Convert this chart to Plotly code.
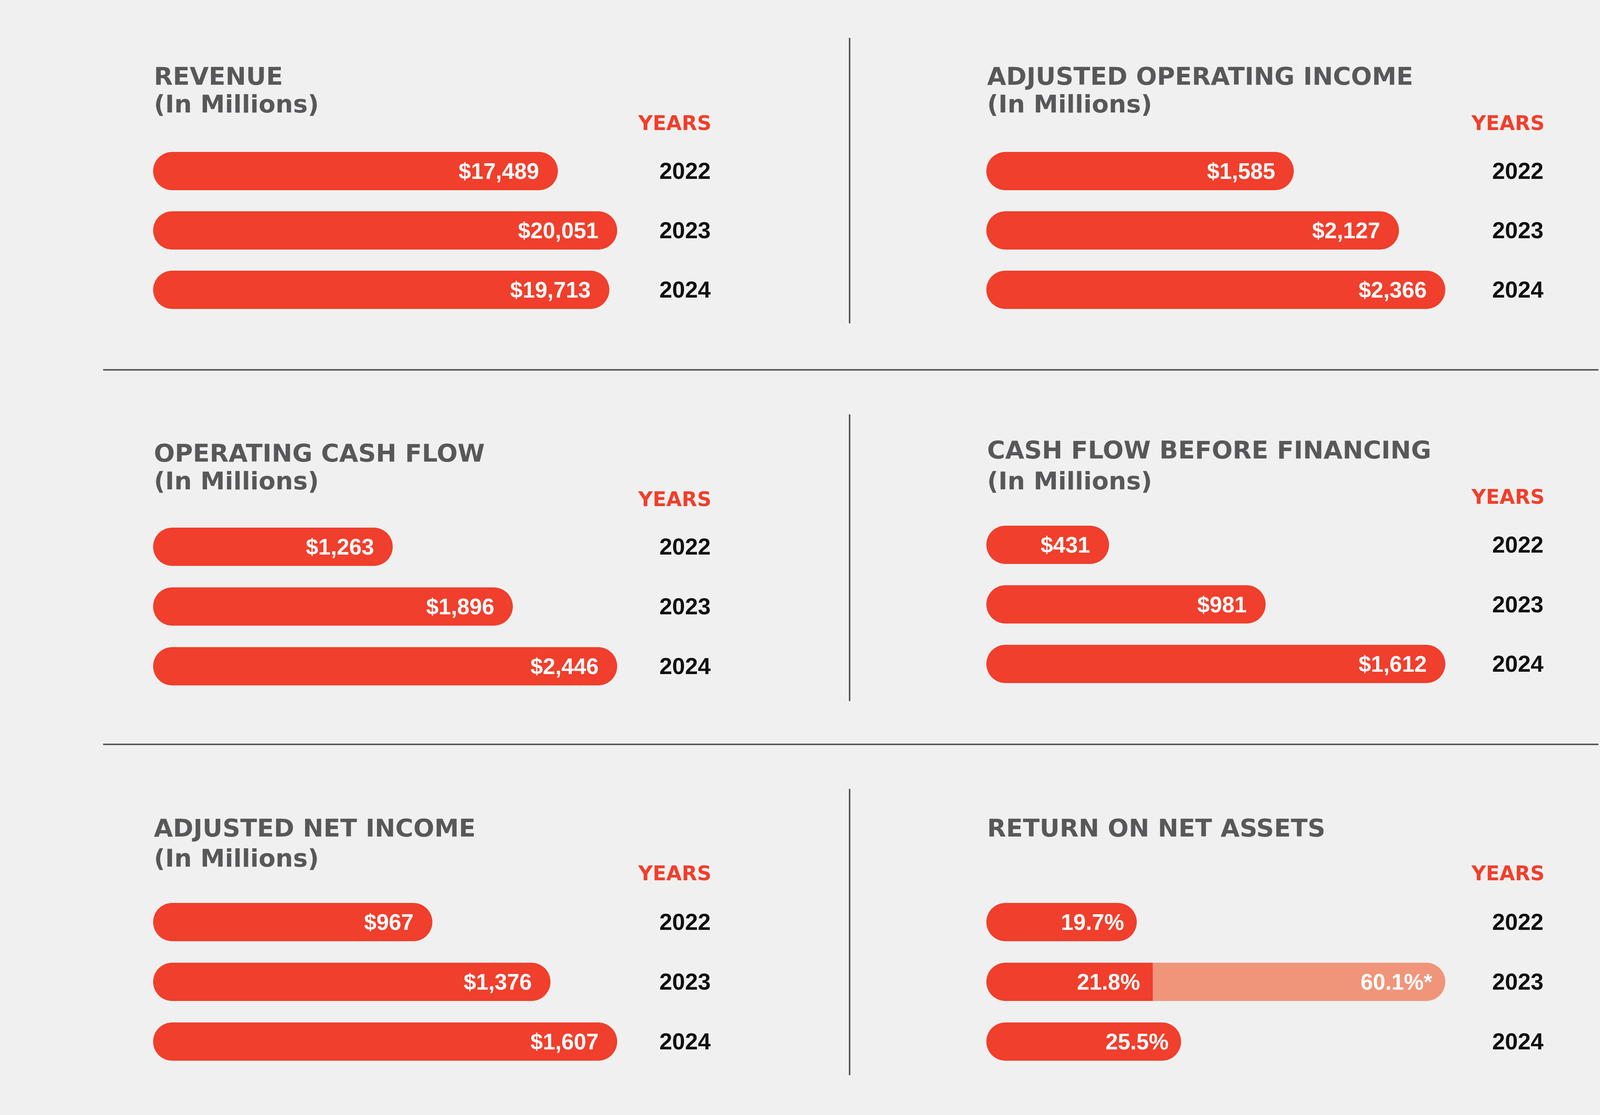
import plotly.graph_objects as go

W, H = 4356, 2855

# ---------------- data ----------------
years = ["2022", "2023", "2024"]
revenue = [17489, 20051, 19713]
adj_operating_income = [1585, 2127, 2366]
operating_cash_flow = [1263, 1896, 2446]
cash_flow_before_financing = [431, 981, 1612]
adj_net_income = [967, 1376, 1607]
return_on_net_assets = [19.7, 21.8, 25.5]
rona_2023_alt = 60.1  # the "60.1%*" figure

titles = ["REVENUE", "ADJUSTED OPERATING INCOME", "OPERATING CASH FLOW",
          "CASH FLOW BEFORE FINANCING", "ADJUSTED NET INCOME", "RETURN ON NET ASSETS"]
subtitle = "(In Millions)"
years_header = "YEARS"

# ---------------- style ----------------
BG = "#f0f0f0"
RED = "#f03f2c"
LIGHT = "#f09579"
GREY = "#58585a"
YEAR_C = "#111111"
LINE_C = "#58585a"

TITLE_FONT = dict(family="DejaVu Sans", size=63, color=GREY, weight="bold")
HDR_FONT = dict(family="DejaVu Sans", size=51, color=RED, weight="bold")
YEAR_FONT = dict(family="Liberation Sans", size=59, color=YEAR_C, weight="bold")
LABEL_FONT = dict(family="Liberation Sans", size=57, color="white", weight="bold")

col_x0 = [392, 2525]
col_x1 = [1580, 3700]
year_right = [1821, 3953]
hdr_right = [1823, 3956]
BAR_PX = 98

# per panel geometry (pixels): column, first/last bar centre, title y, subtitle y, header y
geo = [
    dict(col=0, c=(438, 742), t=196, s=266, h=315),
    dict(col=1, c=(438, 742), t=196, s=266, h=315),
    dict(col=0, c=(1400, 1706), t=1161, s=1231, h=1278),
    dict(col=1, c=(1395, 1700), t=1152, s=1231, h=1272),
    dict(col=0, c=(2361, 2667), t=2120, s=2197, h=2236),
    dict(col=1, c=(2361, 2667), t=2120, s=None, h=2236),
]

money_series = [revenue, adj_operating_income, operating_cash_flow,
                cash_flow_before_financing, adj_net_income]


def px(x):
    return x / W


def py(y):
    return 1 - y / H


fig = go.Figure()
layout = dict(
    width=W, height=H, paper_bgcolor=BG, plot_bgcolor="rgba(0,0,0,0)",
    margin=dict(l=0, r=0, t=0, b=0), showlegend=False, barmode="overlay",
    hovermode=False,
)
annotations = []
idx = list(range(len(years)))

for i, g in enumerate(geo):
    k = "" if i == 0 else str(i + 1)
    xa, ya = "x" + k, "y" + k
    c0, c1 = g["c"]
    step = (c1 - c0) / 2
    top, bot = c0 - step / 2, c1 + step / 2
    bw = BAR_PX / step
    col = g["col"]
    bar_marker = dict(color=RED, line=dict(width=0), cornerradius="50%")

    if i < 5:
        vals = money_series[i]
        # a bar with an explicit base gets both ends rounded -> pill
        fig.add_trace(go.Bar(y=years, x=vals, base=[0] * len(vals), orientation="h",
                             width=bw, marker=bar_marker, xaxis=xa, yaxis=ya))
        labels = [(j, v, f"${v:,}") for j, v in zip(idx, vals)]
        inset = 46
        xmax = max(vals)
    else:
        vals = return_on_net_assets
        pill_years = [years[0], years[2]]
        pill_vals = [vals[0], vals[2]]
        fig.add_trace(go.Bar(y=pill_years, x=pill_vals, base=[0, 0], orientation="h",
                             width=bw, marker=bar_marker, xaxis=xa, yaxis=ya))
        xmax = rona_2023_alt
        # 2023: light part (21.8 -> 60.1) rounded on the right only, drawn on an
        # overlaying axis whose zero sits at 21.8
        fig.add_trace(go.Bar(y=[years[1]], x=[rona_2023_alt - vals[1]], orientation="h",
                             width=bw, marker=dict(color=LIGHT, line=dict(width=0), cornerradius="50%"),
                             xaxis="x7", yaxis=ya))
        # 2023: dark part (0 -> 21.8) rounded on the left only, on a reversed overlaying axis
        fig.add_trace(go.Bar(y=[years[1]], x=[vals[1]], orientation="h",
                             width=bw, marker=bar_marker, xaxis="x8", yaxis=ya))
        layout["xaxis7"] = dict(overlaying=xa, range=[-vals[1], rona_2023_alt - vals[1]],
                                visible=False, fixedrange=True, anchor=ya)
        layout["xaxis8"] = dict(overlaying=xa, range=[vals[1], vals[1] - rona_2023_alt],
                                visible=False, fixedrange=True, anchor=ya)
        labels = [(j, v, f"{v}%") for j, v in zip(idx, vals)] + \
                 [(1, rona_2023_alt, f"{rona_2023_alt}%*")]
        inset = 30

    layout["xaxis" + k] = dict(domain=[px(col_x0[col]), px(col_x1[col])], range=[0, xmax],
                               visible=False, fixedrange=True, anchor=ya)
    layout["yaxis" + k] = dict(domain=[py(bot), py(top)], type="category",
                               categoryorder="array", categoryarray=years,
                               range=[2.5, -0.5], visible=False, fixedrange=True, anchor=xa)

    # bar value labels
    for j, v, txt in labels:
        annotations.append(dict(x=v, y=j, xref=xa, yref=ya, text=txt, showarrow=False,
                                xanchor="right", yanchor="middle", xshift=-inset,
                                font=LABEL_FONT))
    # year labels
    for j, yr in zip(idx, years):
        annotations.append(dict(x=px(year_right[col]), y=j, xref="paper", yref=ya, text=yr,
                                showarrow=False, xanchor="right", yanchor="middle",
                                font=YEAR_FONT))
    # header "YEARS"
    annotations.append(dict(x=px(hdr_right[col]), y=py(g["h"]), xref="paper", yref="paper",
                            text=years_header, showarrow=False, xanchor="right",
                            yanchor="middle", font=HDR_FONT))
    # titles
    annotations.append(dict(x=px(col_x0[col]), y=py(g["t"]), xref="paper", yref="paper",
                            text=titles[i], showarrow=False, xanchor="left", yanchor="middle",
                            font=TITLE_FONT))
    if g["s"] is not None:
        annotations.append(dict(x=px(col_x0[col]), y=py(g["s"]), xref="paper", yref="paper",
                                text=subtitle, showarrow=False, xanchor="left",
                                yanchor="middle", font=TITLE_FONT))

# divider lines
shapes = []
for yy in (947, 1906):
    shapes.append(dict(type="line", xref="paper", yref="paper", x0=px(264), x1=px(4092),
                       y0=py(yy), y1=py(yy), line=dict(color=LINE_C, width=4)))
for y0, y1 in ((97, 828), (1061, 1795), (2020, 2753)):
    shapes.append(dict(type="line", xref="paper", yref="paper", x0=px(2175), x1=px(2175),
                       y0=py(y0), y1=py(y1), line=dict(color=LINE_C, width=4)))

layout["annotations"] = annotations
layout["shapes"] = shapes
fig.update_layout(**layout)
fig.update_traces(showlegend=False)
fig.write_html("out.html",
               post_script="document.body.style.margin='0px';document.body.style.overflow='hidden';")
